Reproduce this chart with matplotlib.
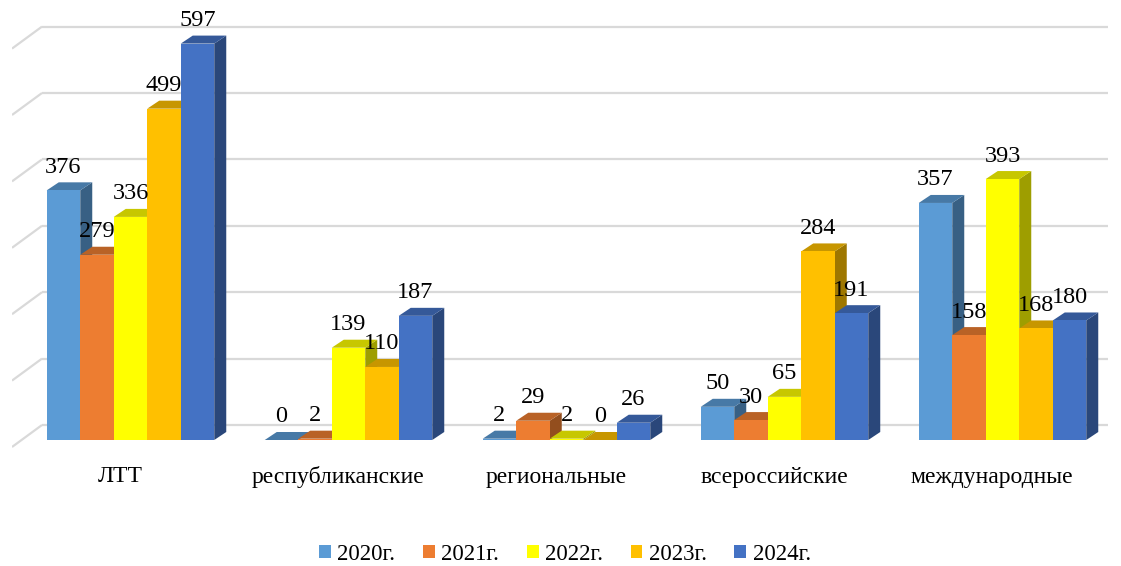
import matplotlib
matplotlib.use("Agg")
import matplotlib.pyplot as plt
import matplotlib.colors as mcolors
from matplotlib.patches import Polygon, Patch

categories = ["ЛТТ", "республиканские", "региональные", "всероссийские", "международные"]
years = ["2020г.", "2021г.", "2022г.", "2023г.", "2024г."]
v2020 = [376, 0, 2, 50, 357]
v2021 = [279, 2, 29, 30, 158]
v2022 = [336, 139, 2, 65, 393]
v2023 = [499, 110, 0, 284, 168]
v2024 = [597, 187, 26, 191, 180]
series = [v2020, v2021, v2022, v2023, v2024]
colors = ["#5B9BD5", "#ED7D31", "#FFFF00", "#FFC000", "#4472C4"]
grid_values = [0, 100, 200, 300, 400, 500, 600]

plt.rcParams["font.family"] = ["Liberation Serif", "DejaVu Serif"]

W, H = 1121, 566
fig = plt.figure(figsize=(W / 100, H / 100), dpi=100)

# pixel geometry of the plotting area
px_x = 218.0          # pixels per category
px_y = 0.664          # pixels per value unit
x0_px = 130.5         # pixel of first category centre
base_px = 440.0       # pixel row of value 0
left_px, right_px, top_px, bot_px = 12, 1110, 20, 450

ax = fig.add_axes([left_px / W, (H - bot_px) / H,
                   (right_px - left_px) / W, (bot_px - top_px) / H])
ax.set_xlim((left_px - x0_px) / px_x, (right_px - x0_px) / px_x)
ax.set_ylim(-(bot_px - base_px) / px_y, (base_px - top_px) / px_y)
ax.axis("off")

bw = 33.5 / px_x      # bar width
dx = 12 / px_x        # bar depth, horizontal
dy = 8 / px_y         # bar depth, vertical

# back wall gridlines with the slanted side-wall segment
wall_up = 15 / px_y
wall_x_front = (left_px - x0_px) / px_x
wall_x_back = (42 - x0_px) / px_x
front_drop = 7 / px_y
for g in grid_values:
    ax.plot([wall_x_front, wall_x_back], [g - front_drop, g + wall_up],
            color="#D9D9D9", lw=1.6, zorder=0, solid_capstyle="butt")
    ax.plot([wall_x_back, (1108 - x0_px) / px_x], [g + wall_up, g + wall_up],
            color="#D9D9D9", lw=1.6, zorder=0, solid_capstyle="butt")


def shade(c, f):
    r, g, b = mcolors.to_rgb(c)
    return (r * f, g * f, b * f)


z = 1
for i in range(len(categories)):
    for j, vals in enumerate(series):
        v = vals[i]
        xl = i + (j - 2.5) * bw
        xr = xl + bw
        col = colors[j]
        side = Polygon([(xr, 0), (xr + dx, dy), (xr + dx, v + dy), (xr, v)],
                       closed=True, facecolor=shade(col, 0.62), edgecolor="none", zorder=z)
        top = Polygon([(xl, v), (xl + dx, v + dy), (xr + dx, v + dy), (xr, v)],
                      closed=True, facecolor=shade(col, 0.78), edgecolor="none", zorder=z + 1)
        ax.add_patch(side)
        ax.add_patch(top)
        ax.bar(xl, v, width=bw, align="edge", color=col, edgecolor="none",
               zorder=z + 2)
        ax.text(xl + bw / 2, v + 23 / px_y, str(v), ha="center", va="center",
                fontsize=17.5, color="black", zorder=100)
        z += 3

for i, name in enumerate(categories):
    ax.text(i - 10.5 / px_x, -37 / px_y, name, ha="center", va="center",
            fontsize=17, color="black", clip_on=False)

handles = [Patch(facecolor=c, edgecolor="none") for c in colors]
fig.legend(handles, years, loc="center", bbox_to_anchor=(565 / W, 1 - 554 / H),
           ncol=5, frameon=False, fontsize=16.5, handlelength=0.52,
           handleheight=0.52, handletextpad=0.28, columnspacing=1.2)

fig.savefig("out.png", dpi=100)
